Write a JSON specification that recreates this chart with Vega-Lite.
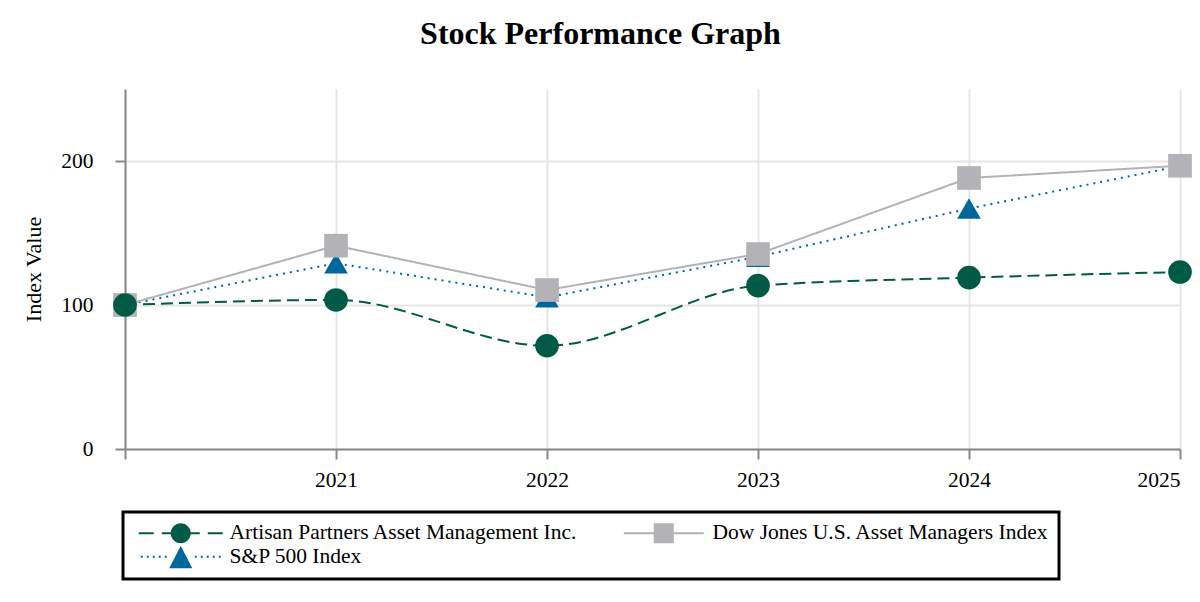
{
  "$schema": "https://vega.github.io/schema/vega-lite/v6.json",
  "description": "Stock performance graph: cumulative index values 2020-2025.",
  "autosize": {"type": "none"},
  "width": 1055,
  "height": 360,
  "padding": {"left": 125, "top": 89, "right": 20, "bottom": 153},
  "background": "white",
  "title": {
    "text": "Stock Performance Graph",
    "font": "Liberation Serif",
    "fontSize": 32,
    "fontWeight": "bold",
    "color": "black",
    "anchor": "middle",
    "frame": "group",
    "dx": -52,
    "offset": 38
  },
  "data": {
    "values": [
      {"year": 2020, "series": "S&P 500 Index", "value": 100},
      {"year": 2021, "series": "S&P 500 Index", "value": 129},
      {"year": 2022, "series": "S&P 500 Index", "value": 105.3},
      {"year": 2023, "series": "S&P 500 Index", "value": 133.5},
      {"year": 2024, "series": "S&P 500 Index", "value": 167},
      {"year": 2025, "series": "S&P 500 Index", "value": 196.5},
      {"year": 2020, "series": "Dow Jones U.S. Asset Managers Index", "value": 100},
      {"year": 2021, "series": "Dow Jones U.S. Asset Managers Index", "value": 141.2},
      {"year": 2022, "series": "Dow Jones U.S. Asset Managers Index", "value": 110.4},
      {"year": 2023, "series": "Dow Jones U.S. Asset Managers Index", "value": 135.4},
      {"year": 2024, "series": "Dow Jones U.S. Asset Managers Index", "value": 188.2},
      {"year": 2025, "series": "Dow Jones U.S. Asset Managers Index", "value": 196.7},
      {"year": 2020, "series": "Artisan Partners Asset Management Inc.", "value": 100},
      {"year": 2021, "series": "Artisan Partners Asset Management Inc.", "value": 103.5},
      {"year": 2022, "series": "Artisan Partners Asset Management Inc.", "value": 71.7},
      {"year": 2023, "series": "Artisan Partners Asset Management Inc.", "value": 113.4},
      {"year": 2024, "series": "Artisan Partners Asset Management Inc.", "value": 119},
      {"year": 2025, "series": "Artisan Partners Asset Management Inc.", "value": 122.9}
    ]
  },
  "encoding": {
    "x": {
      "field": "year",
      "type": "quantitative",
      "scale": {"domain": [2020, 2025], "nice": false, "zero": false},
      "axis": {
        "title": null,
        "values": [2020, 2021, 2022, 2023, 2024, 2025],
        "labelExpr": "datum.value == 2020 ? '' : format(datum.value, 'd')",
        "labelPadding": 10,
        "tickSize": 10
      }
    },
    "y": {
      "field": "value",
      "type": "quantitative",
      "scale": {"domain": [0, 250], "nice": false},
      "axis": {
        "title": "Index Value",
        "values": [0, 100, 200],
        "tickSize": 10,
        "labelPadding": 22,
        "titlePadding": 15
      }
    },
    "color": {
      "field": "series",
      "type": "nominal",
      "scale": {
        "domain": ["Artisan Partners Asset Management Inc.", "Dow Jones U.S. Asset Managers Index", "S&P 500 Index"],
        "range": ["#005A45", "#B3B3B7", "#00679C"]
      },
      "legend": {
        "title": null,
        "orient": "none",
        "legendX": -2,
        "legendY": 423,
        "direction": "horizontal",
        "columns": 2,
        "columnPadding": 38,
        "rowPadding": -6,
        "padding": 10,
        "symbolSize": 400,
        "symbolOpacity": 1,
        "symbolStrokeWidth": 0,
        "symbolOffset": 37,
        "labelOffset": 38,
        "encode": {
          "legend": {"update": {"stroke": {"value": "black"}, "strokeWidth": {"value": 3}, "fill": {"value": "white"}}}
        }
      }
    }
  },
  "layer": [
    {
      "transform": [{"filter": "datum.series !== 'Artisan Partners Asset Management Inc.'"}],
      "mark": {"type": "line", "strokeWidth": 2},
      "encoding": {
        "strokeDash": {
          "field": "series",
          "type": "nominal",
          "scale": {
            "domain": ["Dow Jones U.S. Asset Managers Index", "S&P 500 Index"],
            "range": [[1, 0], [2, 5]]
          },
          "legend": null
        }
      }
    },
    {
      "transform": [{"filter": "datum.series === 'Artisan Partners Asset Management Inc.'"}],
      "mark": {"type": "line", "strokeWidth": 2, "interpolate": "monotone", "strokeDash": [12, 6]},
      "encoding": {}
    },
    {
      "transform": [{"filter": "datum.series === 'S&P 500 Index'"}],
      "mark": {"type": "point", "shape": "triangle-up", "filled": true, "opacity": 1, "size": 560},
      "encoding": {}
    },
    {
      "transform": [{"filter": "datum.series === 'Dow Jones U.S. Asset Managers Index'"}],
      "mark": {"type": "point", "shape": "square", "filled": true, "opacity": 1, "size": 560},
      "encoding": {}
    },
    {
      "transform": [{"filter": "datum.series === 'Artisan Partners Asset Management Inc.'"}],
      "mark": {"type": "point", "shape": "circle", "filled": true, "opacity": 1, "size": 560},
      "encoding": {}
    },
    {
      "mark": {"type": "point", "filled": true, "opacity": 0, "size": 400},
      "encoding": {
        "shape": {
          "field": "series",
          "type": "nominal",
          "scale": {
            "domain": ["Artisan Partners Asset Management Inc.", "Dow Jones U.S. Asset Managers Index", "S&P 500 Index"],
            "range": [
              "M0,-1.8M-4.2,-0.1H-2.7V0.1H-4.2ZM-1.9,-0.1H-0.5V0.1H-1.9ZM0.5,-0.1H1.9V0.1H0.5ZM2.7,-0.1H4.2V0.1H2.7ZM1,0A1,1 0 1,1 -1,0A1,1 0 1,1 1,0Z",
              "M0,-1.8M-4,-0.1H4V0.1H-4ZM-1,-1H1V1H-1Z",
              "M0,-1.8M-4,-0.1h0.2v0.2h-0.2ZM-3.4,-0.1h0.2v0.2h-0.2ZM-2.8,-0.1h0.2v0.2h-0.2ZM-2.2,-0.1h0.2v0.2h-0.2ZM-1.6,-0.1h0.2v0.2h-0.2ZM1.4,-0.1h0.2v0.2h-0.2ZM2,-0.1h0.2v0.2h-0.2ZM2.6,-0.1h0.2v0.2h-0.2ZM3.2,-0.1h0.2v0.2h-0.2ZM3.8,-0.1h0.2v0.2h-0.2ZM0,-1.1L1.15,1.15L-1.15,1.15Z"
            ]
          }
        }
      }
    }
  ],
  "config": {
    "view": {"stroke": null},
    "font": "Liberation Serif",
    "axis": {
      "labelFont": "Liberation Serif",
      "labelFontSize": 21.5,
      "labelColor": "black",
      "titleFont": "Liberation Serif",
      "titleFontSize": 22,
      "titleFontWeight": "normal",
      "titleColor": "black",
      "domainColor": "#888888",
      "domainWidth": 2,
      "tickColor": "#888888",
      "tickWidth": 2,
      "gridColor": "#E6E6E6",
      "gridWidth": 2
    },
    "legend": {
      "labelFont": "Liberation Serif",
      "labelFontSize": 21.5,
      "labelColor": "black",
      "labelLimit": 600
    }
  }
}
